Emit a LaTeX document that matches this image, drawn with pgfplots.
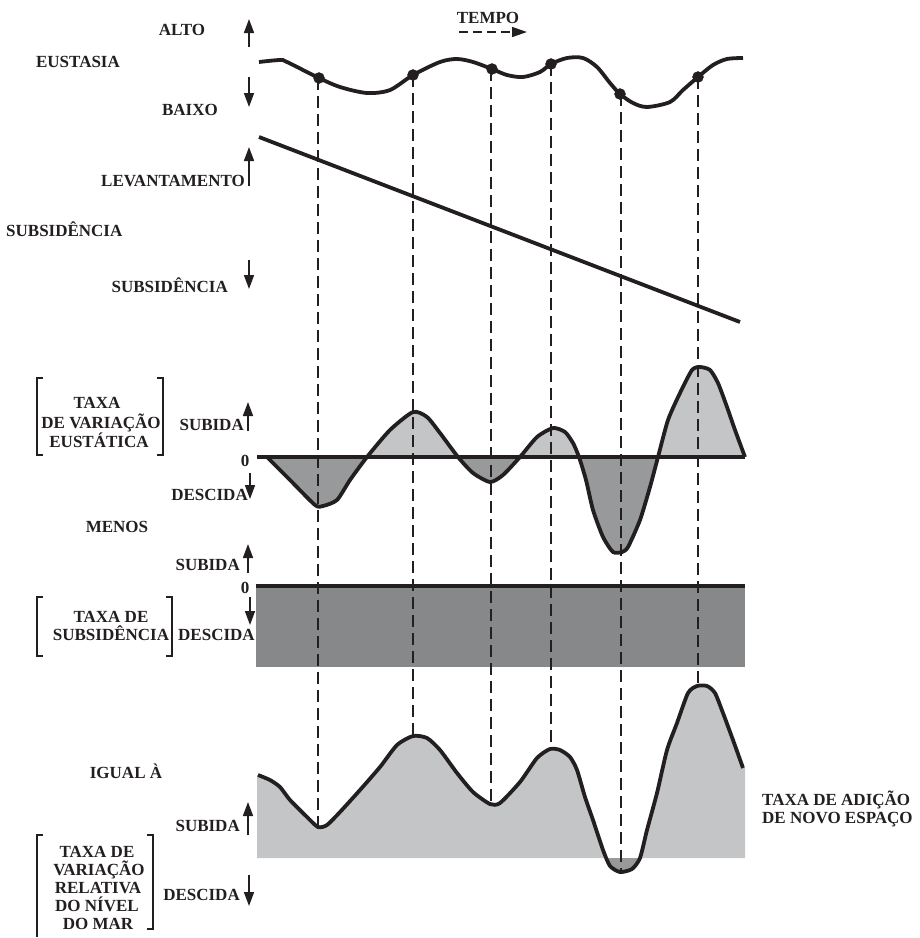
\documentclass[border=0pt]{standalone}
\usepackage{pgfplots}
\pgfplotsset{compat=1.18}
\usetikzlibrary{arrows.meta}
\usepackage{fontspec}
\setmainfont{Liberation Serif}
\definecolor{ink}{HTML}{231F20}
\definecolor{lightfill}{HTML}{C4C5C7}
\definecolor{midfill}{HTML}{98999B}
\definecolor{darkfill}{HTML}{87888A}
\newcommand\lab{\fontsize{17}{18.5}\selectfont\bfseries}
\begin{document}
\begin{tikzpicture}
\begin{axis}[width=920pt, height=938pt, scale only axis,
  xmin=0, xmax=920, ymin=0, ymax=938, y dir=reverse,
  axis lines=none, clip=false]
\path (axis cs:0,0) rectangle (axis cs:920,938);
\pgfplotsset{sm/.style={smooth, tension=0.4}}

% ---- eustatic rate panel fills (segments between zero crossings)
\addplot[sm, fill=midfill, draw=none] coordinates {(267,457) (290,480) (315,505) (323,506) (337,500) (350,480) (367,457)} -- cycle;
\addplot[sm, fill=lightfill, draw=none] coordinates {(367,457) (390,430) (413,412) (427,417) (440,433) (458,457)} -- cycle;
\addplot[sm, fill=midfill, draw=none] coordinates {(458,457) (473,473) (490,482) (503,475) (520,457)} -- cycle;
\addplot[sm, fill=lightfill, draw=none] coordinates {(520,457) (537,437) (553,428) (565,432) (573,443) (579,457)} -- cycle;
\addplot[sm, fill=midfill, draw=none] coordinates {(579,457) (586,480) (593,510) (603,537) (613,552) (622,552) (628,547) (640,520) (650,487) (658,457)} -- cycle;
\addplot[sm, fill=lightfill, draw=none] coordinates {(658,457) (668,420) (680,393) (692,370) (700,367) (710,370) (718,383) (727,407) (735,430) (745,457)} -- cycle;

% ---- relative sea level panel fills
\addplot[sm, fill=lightfill, draw=none] coordinates {(258,775) (270,780) (280,787) (290,800) (307,817) (318,827) (327,825) (340,812) (360,790) (380,767) (397,745) (413,736) (427,738) (440,750) (457,773) (473,792) (490,804) (500,803) (520,782) (537,758) (550,749) (560,750) (570,757) (577,770) (585,797) (593,820) (603,850) (607,858)} -- (axis cs:257,858) -- (axis cs:257,775) -- cycle;
\addplot[sm, fill=lightfill, draw=none] coordinates {(640,858) (647,830) (657,793) (667,750) (677,723) (688,693) (697,686) (707,686) (715,693) (723,713) (733,740) (743,768)} -- (axis cs:745,768) -- (axis cs:745,858) -- cycle;
\addplot[sm, fill=midfill, draw=none] coordinates {(607,858) (610,866) (620,872) (632,869) (640,858)} -- cycle;

% ---- subsidence rate rectangle
\addplot[fill=darkfill, draw=none] coordinates {(256,586) (745,586) (745,667) (256,667)} -- cycle;

% ---- dashed time lines
\pgfplotsset{tl/.style={ink, line width=1.8pt, dash pattern=on 12pt off 6pt}}
\addplot[tl] coordinates {(318,78) (318,827)};
\addplot[tl] coordinates {(413,75) (413,736)};
\addplot[tl] coordinates {(491,69) (491,804)};
\addplot[tl] coordinates {(551,64) (551,749)};
\addplot[tl] coordinates {(621,94) (621,872)};
\addplot[tl] coordinates {(698,77) (698,686)};

% ---- curves
\addplot[ink, line width=3.8pt, smooth, tension=0.5] coordinates {(259,62) (280,60) (287,62) (319,78) (340,87) (367,93) (390,90) (413,75) (440,62) (457,59) (473,62) (492,69) (507,75) (523,77) (540,72) (551,64) (567,58) (583,58) (597,67) (610,83) (620,94) (633,103) (647,107) (670,102) (683,90) (698,77) (713,65) (727,59) (743,58)};
\addplot[ink, only marks, mark=*, mark size=5.5pt] coordinates {(319,78) (413,75) (492,69) (551,64) (620,94) (698,77)};
\addplot[ink, line width=3.8pt] coordinates {(259,137) (740,322)};
\addplot[ink, line width=3.8pt] coordinates {(257,457) (745,457)};
\addplot[ink, line width=3.8pt, sm] coordinates {(267,457) (290,480) (315,505) (323,506) (337,500) (350,480) (367,457) (390,430) (413,412) (427,417) (440,433) (458,457) (473,473) (490,482) (503,475) (520,457) (537,437) (553,428) (565,432) (573,443) (579,457) (586,480) (593,510) (603,537) (613,552) (622,552) (628,547) (640,520) (650,487) (658,457) (668,420) (680,393) (692,370) (700,367) (710,370) (718,383) (727,407) (735,430) (745,457)};
\addplot[ink, line width=3.8pt] coordinates {(256,586) (745,586)};
\addplot[ink, line width=3.8pt, sm] coordinates {(258,775) (270,780) (280,787) (290,800) (307,817) (318,827) (327,825) (340,812) (360,790) (380,767) (397,745) (413,736) (427,738) (440,750) (457,773) (473,792) (490,804) (500,803) (520,782) (537,758) (550,749) (560,750) (570,757) (577,770) (585,797) (593,820) (603,850) (610,866) (620,872) (632,869) (640,858) (647,830) (657,793) (667,750) (677,723) (688,693) (697,686) (707,686) (715,693) (723,713) (733,740) (743,768)};

% ---- arrows
\tikzset{ar/.style={ink, line width=1.6pt, -{Triangle[width=10pt,length=14pt]}}}
\draw[ar] (axis cs:249,47) -- (axis cs:249,19);
\draw[ar] (axis cs:249,77) -- (axis cs:249,107);
\draw[ar] (axis cs:249,186) -- (axis cs:249,147);
\draw[ar] (axis cs:249,260) -- (axis cs:249,289);
\draw[ar] (axis cs:248,431) -- (axis cs:248,402);
\draw[ar] (axis cs:250,473) -- (axis cs:250,499);
\draw[ar] (axis cs:248,573) -- (axis cs:248,544);
\draw[ar] (axis cs:250,597) -- (axis cs:250,625);
\draw[ar] (axis cs:248,835) -- (axis cs:248,802);
\draw[ar] (axis cs:249,875) -- (axis cs:249,906);
\draw[ink, line width=1.5pt, dash pattern=on 9pt off 5pt, -{Triangle[width=10pt,length=15pt]}] (axis cs:459,32) -- (axis cs:527,32);

% ---- brackets
\tikzset{br/.style={ink, line width=1.2pt}}
\draw[br] (axis cs:43,378) -- (axis cs:37,378) -- (axis cs:37,455) -- (axis cs:43,455);
\draw[br] (axis cs:157,378) -- (axis cs:163,378) -- (axis cs:163,455) -- (axis cs:157,455);
\draw[br] (axis cs:43,597) -- (axis cs:37,597) -- (axis cs:37,656) -- (axis cs:43,656);
\draw[br] (axis cs:166,597) -- (axis cs:172,597) -- (axis cs:172,656) -- (axis cs:166,656);
\draw[br] (axis cs:43,835) -- (axis cs:37,835) -- (axis cs:37,937);
\draw[br] (axis cs:147,835) -- (axis cs:153,835) -- (axis cs:153,929) -- (axis cs:147,929);

% ---- labels
\tikzset{t/.style={text=ink, inner sep=0pt, anchor=base, font=\lab}}
\node[t] at (axis cs:182,35) {ALTO};
\node[t] at (axis cs:78,67) {EUSTASIA};
\node[t] at (axis cs:190,115) {BAIXO};
\node[t, anchor=base east] at (axis cs:245,186) {LEVANTAMENTO};
\node[t, anchor=base west] at (axis cs:6,236) {SUBSID\^ENCIA};
\node[t, anchor=base east] at (axis cs:228,292) {SUBSID\^ENCIA};
\node[t] at (axis cs:488,23) {TEMPO};
\node[t] at (axis cs:97,408) {TAXA};
\node[t] at (axis cs:101,428) {DE VARIAÇÃO};
\node[t] at (axis cs:99,447) {EUSTÁTICA};
\node[t, anchor=base east] at (axis cs:244,430) {SUBIDA};
\node[t] at (axis cs:245,466) {0};
\node[t, anchor=base east] at (axis cs:248,500) {DESCIDA};
\node[t] at (axis cs:117,532) {MENOS};
\node[t, anchor=base east] at (axis cs:240,570) {SUBIDA};
\node[t] at (axis cs:245,593) {0};
\node[t] at (axis cs:111,622) {TAXA DE};
\node[t] at (axis cs:111,640) {SUBSID\^ENCIA};
\node[t, anchor=base west] at (axis cs:178,640) {DESCIDA};
\node[t] at (axis cs:126,778) {IGUAL À};
\node[t, anchor=base east] at (axis cs:240,831) {SUBIDA};
\node[t] at (axis cs:97,857) {TAXA DE};
\node[t] at (axis cs:99,875) {VARIAÇÃO};
\node[t] at (axis cs:98,893) {RELATIVA};
\node[t] at (axis cs:97,911) {DO NÍVEL};
\node[t] at (axis cs:98,929) {DO MAR};
\node[t, anchor=base east] at (axis cs:240,900) {DESCIDA};
\node[t, anchor=base west] at (axis cs:762,805) {TAXA DE ADIÇÃO};
\node[t, anchor=base west] at (axis cs:762,823) {DE NOVO ESPAÇO};
\end{axis}
\end{tikzpicture}
\end{document}
